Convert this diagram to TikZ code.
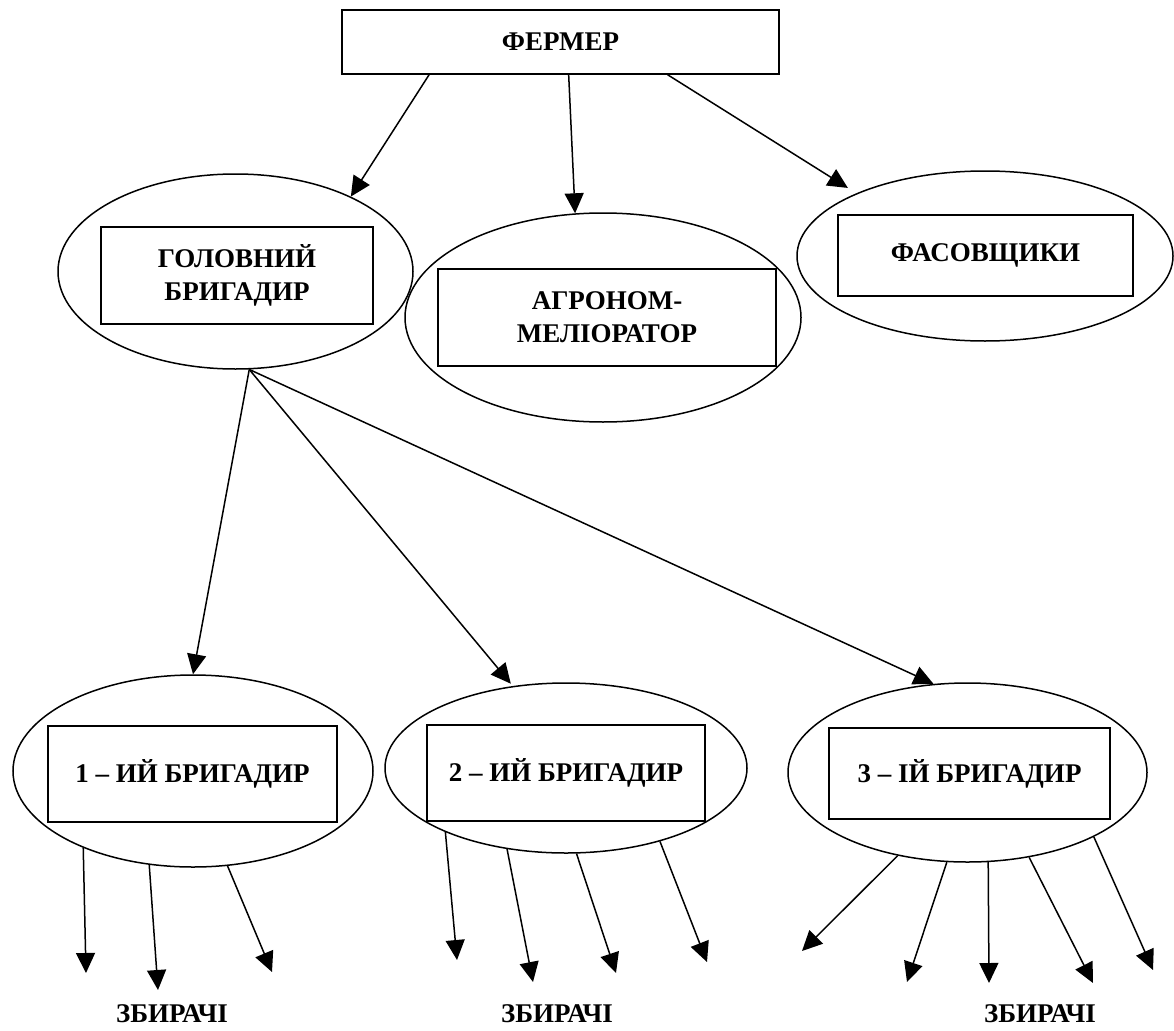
\documentclass[tikz,border=0pt]{standalone}
\usepackage{fontspec}
\setmainfont{Liberation Serif}
\usetikzlibrary{shapes.geometric,arrows.meta}
\tikzset{
  oval/.style={ellipse,draw,line width=1.5pt,inner sep=0pt},
  box/.style={rectangle,draw,line width=1.5pt,inner sep=0pt,align=center,
    font=\fontsize{27}{33}\selectfont\bfseries},
  lbl/.style={font=\fontsize{27}{33}\selectfont\bfseries},
  arr/.style={line width=1.5pt,-{Triangle[length=20pt,width=19pt]}}
}
\begin{document}
\begin{tikzpicture}[x=1pt,y=-1pt]
\useasboundingbox (0,0) rectangle (1174,1030);
% top box
\node[box,minimum width=437pt,minimum height=64pt] (fermer) at (560.5,42) {ФЕРМЕР};
% second level ellipses
\node[oval,minimum width=355pt,minimum height=195pt] (golovE) at (235.5,271.5) {};
\node[box,minimum width=272pt,minimum height=97pt] (golov) at (237,275.5) {ГОЛОВНИЙ\\БРИГАДИР};
\node[oval,minimum width=396pt,minimum height=209pt] (agroE) at (603,317.5) {};
\node[box,minimum width=338pt,minimum height=97pt] (agro) at (607,317.5) {АГРОНОМ-\\МЕЛІОРАТОР};
\node[oval,minimum width=376pt,minimum height=170pt] (fasE) at (985,256) {};
\node[box,minimum width=295pt,minimum height=81pt] (fas) at (985.5,255.5) {ФАСОВЩИКИ};
% third level
\node[oval,minimum width=360pt,minimum height=192pt] (b1E) at (193,771) {};
\node[box,minimum width=289pt,minimum height=96pt] (b1) at (192.5,774) {1 – ИЙ БРИГАДИР};
\node[oval,minimum width=362pt,minimum height=170pt] (b2E) at (566,768) {};
\node[box,minimum width=278pt,minimum height=96pt] (b2) at (566,773) {2 – ИЙ БРИГАДИР};
\node[oval,minimum width=359pt,minimum height=179pt] (b3E) at (967.5,772.5) {};
\node[box,minimum width=281pt,minimum height=91pt] (b3) at (969.5,773.5) {3 – ІЙ БРИГАДИР};
% labels
\node[lbl] (z1) at (172,1014) {ЗБИРАЧІ};
\node[lbl] (z2) at (557,1014) {ЗБИРАЧІ};
\node[lbl] (z3) at (1040,1014) {ЗБИРАЧІ};
% free ends
\coordinate (e11) at (86,973);
\coordinate (e12) at (158,990);
\coordinate (e13) at (272,972);
\coordinate (e21) at (457,960);
\coordinate (e22) at (533,982);
\coordinate (e23) at (616,973);
\coordinate (e24) at (707,962);
\coordinate (e31) at (802,951);
\coordinate (e32) at (907,982);
\coordinate (e33) at (989,983);
\coordinate (e34) at (1093,983);
\coordinate (e35) at (1153,970);
% connectors
\draw[arr] (fermer.194.3) -- (golovE.33.3);
\draw[arr] (fermer.284.9) -- (agroE.105);
\draw[arr,shorten >=10pt] (fermer.343.4) -- (fasE.154);
\draw[arr] (golovE.278.2) -- (b1E.90.6);
\draw[arr,shorten >=3pt] (golovE.278.2) -- (b2E.123.4);
\draw[arr] (golovE.278.2) -- (b3E.111.1);
\draw[arr] (b1E.215) -- (e11);
\draw[arr] (b1E.245.1) -- (e12);
\draw[arr] (b1E.290.4) -- (e13);
\draw[arr] (b2E.208.6) -- (e21);
\draw[arr] (b2E.234.3) -- (e22);
\draw[arr] (b2E.277) -- (e23);
\draw[arr] (b2E.322.4) -- (e24);
\draw[arr] (b3E.230.2) -- (e31);
\draw[arr] (b3E.257.4) -- (e32);
\draw[arr] (b3E.283.2) -- (e33);
\draw[arr] (b3E.306.4) -- (e34);
\draw[arr] (b3E.333.9) -- (e35);
\end{tikzpicture}
\end{document}
